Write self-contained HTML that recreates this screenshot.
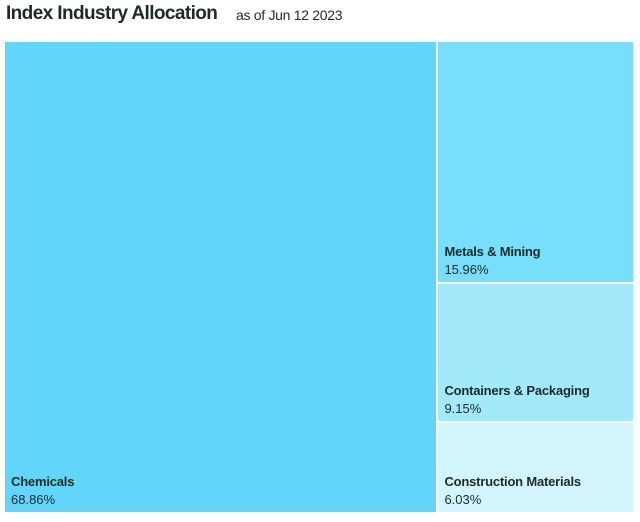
<!DOCTYPE html>
<html><head><meta charset="utf-8"><style>
body{margin:0;width:640px;height:522px;background:#fff;font-family:"Liberation Sans",sans-serif;color:#1e2b25;overflow:hidden;position:relative}
#title{position:absolute;left:6px;top:3px;font-size:19px;font-weight:bold;letter-spacing:-0.6px}
#sub{position:absolute;left:236px;top:7px;font-size:14px;letter-spacing:-0.3px}
#tm{position:absolute;left:0;top:0}
.cell{position:absolute;box-sizing:border-box}
.lab{position:absolute;left:6px;bottom:3px;font-size:13px;line-height:18px}
.lab b{display:block;letter-spacing:-0.2px}
</style></head><body>
<div id="title">Index Industry Allocation</div>
<div id="sub">as of Jun 12 2023</div>
<div id="tm"></div>
<script>
const categories=["Chemicals","Metals & Mining","Containers & Packaging","Construction Materials"];
const values=[68.86,15.96,9.15,6.03];
const colors=["#62d6fa","#77dffb","#a1e9fb","#d3f5fd"];
const X0=5,X1=633,Y0=42,Y1=512;
const tm=document.getElementById('tm');
const total=values.reduce((a,b)=>a+b,0);
function addCell(i,x,y,w,h){
  const d=document.createElement('div');
  
  
  d.className='cell';
  d.style.left=(x+1)+'px';d.style.top=(y+1)+'px';
  d.style.width=(w-2)+'px';d.style.height=(h-2)+'px';
  d.style.background=colors[i];
  const l=document.createElement('div');
  
  
  l.className='lab';
  l.innerHTML='<b>'+categories[i].replace('&','&amp;')+'</b>'+values[i].toFixed(2)+'%';
  d.appendChild(l);
  tm.appendChild(d);
}
const wFirst=(X1-X0)*values[0]/total;
addCell(0,X0-1,Y0-1,wFirst+1,Y1-Y0+2);
const rest=total-values[0];
let y=Y0-1;
for(let i=1;i<values.length;i++){
  const h=(Y1-Y0+2)*values[i]/rest;
  addCell(i,X0+wFirst,y,X1-X0-wFirst+1,h);
  y+=h;
}
</script>
</body></html>
